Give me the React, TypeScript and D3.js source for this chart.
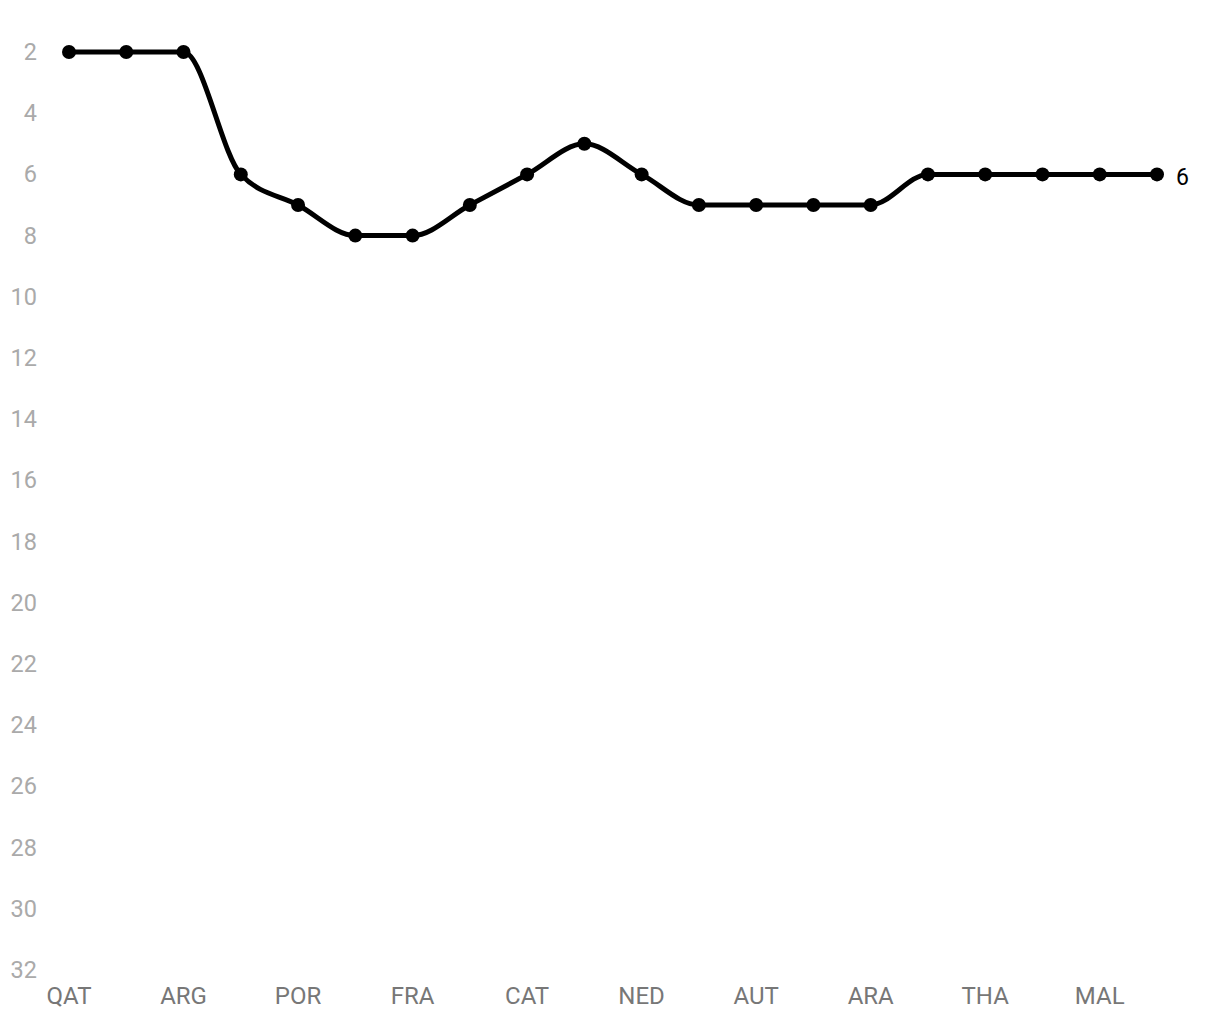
import { useMemo } from "react";
import * as d3 from "d3";

const races = [
  "QAT", "INA", "ARG", "AME", "POR", "SPA", "FRA", "ITA", "CAT", "GER",
  "NED", "GBR", "AUT", "RSM", "ARA", "JPN", "THA", "AUS", "MAL", "VAL",
];
const positions = [2, 2, 2, 6, 7, 8, 8, 7, 6, 5, 6, 7, 7, 7, 7, 6, 6, 6, 6, 6];
const yTicks = [2, 4, 6, 8, 10, 12, 14, 16, 18, 20, 22, 24, 26, 28, 30, 32];
const xLabels = ["QAT", "ARG", "POR", "FRA", "CAT", "NED", "AUT", "ARA", "THA", "MAL"];

const WIDTH = 1220;
const HEIGHT = 1020;
const FONT = "Roboto, 'Noto Sans', sans-serif";

export default function App() {
  const xScale = useMemo(
    () => d3.scalePoint<string>().domain(races).range([69, 1157]),
    []
  );
  const yScale = useMemo(
    () => d3.scaleLinear().domain([2, 32]).range([52, 970]),
    []
  );

  const line = d3
    .line<number>()
    .x((_, i) => xScale(races[i])!)
    .y((d) => yScale(d))
    .curve(d3.curveMonotoneX);

  const last = positions.length - 1;

  return (
    <svg
      width={WIDTH}
      height={HEIGHT}
      style={{ position: "absolute", left: 0, top: 0, background: "#fff" }}
      fontFamily={FONT}
    >
      <g>
        {yTicks.map((t) => (
          <text
            key={t}
            x={37}
            y={yScale(t)}
            textAnchor="end"
            dominantBaseline="central"
            fontSize={23.5}
            fill="#aaaaaa"
          >
            {t}
          </text>
        ))}
      </g>
      <g>
        {xLabels.map((l) => (
          <text
            key={l}
            x={xScale(l)}
            y={996}
            textAnchor="middle"
            dominantBaseline="central"
            fontSize={24}
            fill="#777777"
          >
            {l}
          </text>
        ))}
      </g>
      <path d={line(positions) ?? ""} fill="none" stroke="#000" strokeWidth={5} />
      {positions.map((p, i) => (
        <circle key={i} cx={xScale(races[i])} cy={yScale(p)} r={7} fill="#000" />
      ))}
      <text
        x={xScale(races[last])! + 19}
        y={yScale(positions[last]) + 3}
        dominantBaseline="central"
        fontSize={23}
        fill="#000"
      >
        {positions[last]}
      </text>
    </svg>
  );
}
